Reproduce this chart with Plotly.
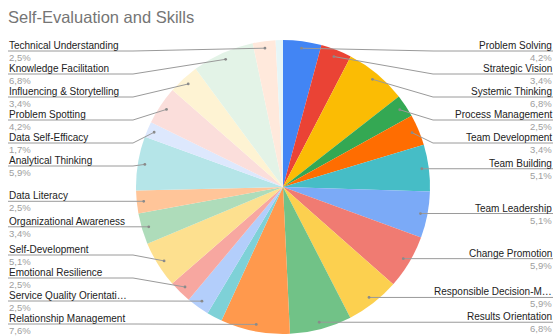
import math
import plotly.graph_objects as go

# ---------------- data ----------------
chart_title = "Self-Evaluation and Skills"
skills = [
    "Problem Solving", "Strategic Vision", "Systemic Thinking", "Process Management",
    "Team Development", "Team Building", "Team Leadership", "Change Promotion",
    "Responsible Decision-Making", "Results Orientation", "Relationship Management",
    "(unlabeled 1)", "Service Quality Orientation", "Emotional Resilience",
    "Self-Development", "Organizational Awareness", "Data Literacy",
    "Analytical Thinking", "Data Self-Efficacy", "Problem Spotting",
    "Influencing & Storytelling", "Knowledge Facilitation", "Technical Understanding",
    "(unlabeled 2)",
]
label_text = [
    "Problem Solving", "Strategic Vision", "Systemic Thinking", "Process Management",
    "Team Development", "Team Building", "Team Leadership", "Change Promotion",
    "Responsible Decision-M…", "Results Orientation", "Relationship Management",
    None, "Service Quality Orientati…", "Emotional Resilience",
    "Self-Development", "Organizational Awareness", "Data Literacy",
    "Analytical Thinking", "Data Self-Efficacy", "Problem Spotting",
    "Influencing & Storytelling", "Knowledge Facilitation", "Technical Understanding",
    None,
]
shares = [4.2, 3.4, 6.8, 2.5, 3.4, 5.1, 5.1, 5.9, 5.9, 6.8, 7.6,
          1.7, 2.5, 2.5, 5.1, 3.4, 2.5, 5.9, 1.7, 4.2, 3.4, 6.8, 2.5, 0.8]
colors = [
    "#4285F4", "#EA4335", "#FBBC04", "#34A853", "#FF6D01", "#46BDC6",
    "#7BAAF7", "#F07B72", "#FCD04F", "#71C287", "#FF994D", "#7ED1D7",
    "#B3CEFB", "#F7A7A0", "#FDE08F", "#AEDCBA", "#FFC599", "#B5E5E8",
    "#DDE8FD", "#FBDEDB", "#FEF3D3", "#E3F3E7", "#FFE9DC", "#E6F6F7",
]

# ---------------- geometry (pixels) ----------------
W, H = 557, 336
cx, cy, R = 283, 187, 147
anchor_r = 140
gap, top_min, bottom_max = 23, 51, 324
left_x, right_x = 8, 553
col_off = 150


def px(x):
    return x / W


def py(y):
    return 1 - y / H


total = sum(shares)
items = []
cum = 0.0
for name, txt, v in zip(skills, label_text, shares):
    mid = (cum + v / 2) / total * 2 * math.pi
    cum += v
    if txt is None:
        continue
    ax = cx + anchor_r * math.sin(mid)
    ay = cy - anchor_r * math.cos(mid)
    side = "right" if mid < math.pi else "left"
    items.append(dict(text=txt, pct=f"{v:.1f}".replace(".", ",") + "%",
                      ax=ax, ay=ay, side=side))


def layout_side(lst):
    lst.sort(key=lambda d: d["ay"])
    prev = None
    for d in lst:
        y = max(d["ay"], top_min if prev is None else prev + gap)
        d["ly"] = y
        prev = y
    nxt = None
    for d in reversed(lst):
        y = min(d["ly"], bottom_max if nxt is None else nxt - gap)
        d["ly"] = y
        nxt = y


right = [d for d in items if d["side"] == "right"]
left = [d for d in items if d["side"] == "left"]
layout_side(right)
layout_side(left)

fig = go.Figure()
fig.add_trace(go.Pie(
    labels=skills, values=shares, sort=False, direction="clockwise", rotation=0,
    marker=dict(colors=colors, line=dict(width=0)),
    textinfo="none", showlegend=False, hoverinfo="label+percent",
    domain=dict(x=[px(cx - R), px(cx + R)], y=[py(cy + R), py(cy - R)]),
))

shapes = []
annotations = []
font_family = "Arial, 'Liberation Sans', sans-serif"
for d in right + left:
    ly = d["ly"]
    if d["side"] == "right":
        x_edge, x_col, anchor = right_x, cx + col_off, "right"
        x_col = max(x_col, d["ax"])
    else:
        x_edge, x_col, anchor = left_x, cx - col_off, "left"
        x_col = min(x_col, d["ax"])
    path = (f"M {px(x_edge)},{py(ly)} L {px(x_col)},{py(ly)} "
            f"L {px(d['ax'])},{py(d['ay'])}")
    shapes.append(dict(type="path", xref="paper", yref="paper", path=path,
                       line=dict(color="#9a9a9a", width=1), layer="above"))
    rr = 1.4
    shapes.append(dict(type="circle", xref="paper", yref="paper",
                       x0=px(d["ax"] - rr), x1=px(d["ax"] + rr),
                       y0=py(d["ay"] + rr), y1=py(d["ay"] - rr),
                       fillcolor="#8a8a8a", line=dict(width=0), layer="above"))
    annotations.append(dict(x=px(x_edge), y=py(ly - 5.5), xref="paper", yref="paper",
                            text=d["text"], showarrow=False, xanchor=anchor,
                            yanchor="middle", borderpad=0,
                            font=dict(family=font_family, size=10, color="#222222")))
    annotations.append(dict(x=px(x_edge), y=py(ly + 6.5), xref="paper", yref="paper",
                            text=d["pct"], showarrow=False, xanchor=anchor,
                            yanchor="middle", borderpad=0,
                            font=dict(family=font_family, size=9.5, color="#9e9e9e")))

fig.update_layout(
    width=W, height=H,
    margin=dict(l=0, r=0, t=0, b=0),
    paper_bgcolor="white", plot_bgcolor="white",
    title=dict(text=chart_title, x=px(8), xanchor="left", y=py(17), yanchor="middle",
               font=dict(family=font_family, size=16.5, color="#757575")),
    shapes=shapes, annotations=annotations,
)

fig.write_html("out.html")
